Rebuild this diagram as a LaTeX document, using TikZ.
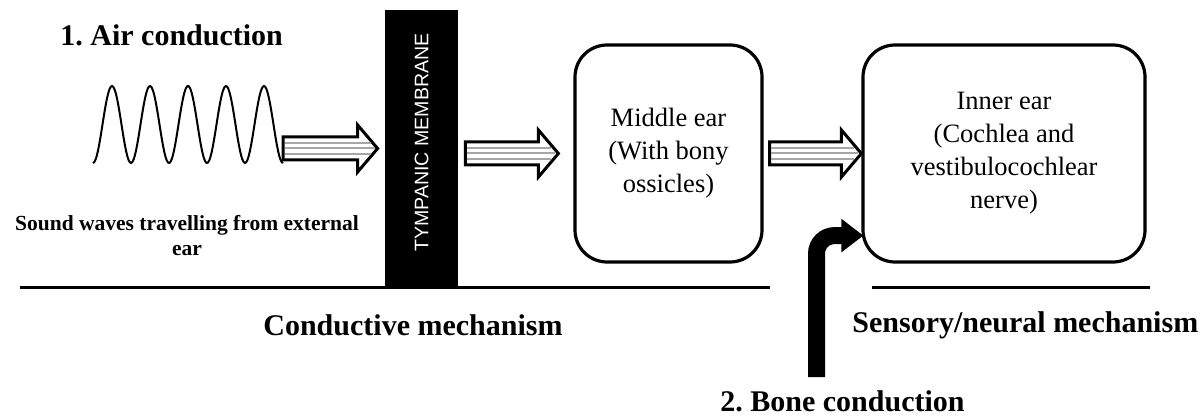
\documentclass[tikz,border=0pt]{standalone}
\usepackage{fontspec}
\setmainfont{Liberation Serif}
\setsansfont{Liberation Sans}
\usepackage{graphicx}
\usetikzlibrary{arrows.meta,calc}
\frenchspacing
\tikzset{
  headline/.style={font=\bfseries\fontsize{15}{18}\selectfont,inner sep=0pt},
  earbox/.style={draw,line width=1.6pt,rounded corners=16pt,align=center,inner sep=0pt,
    font=\fontsize{13.25}{16.5}\selectfont},
  membrane/.style={fill=black,text=white,inner sep=0pt,minimum width=36.5pt,minimum height=138.5pt,
    font=\sffamily\fontsize{9.8}{11}\selectfont},
  arrowbody/.style={draw=black,fill=white,line width=1.5pt,line join=miter},
  arrowstripe/.style={draw=gray!70,line width=1pt},
  groundline/.style={line width=1.5pt},
  soundwave/.style={line width=1pt},
  bonearrow/.style={line width=8.5pt,rounded corners=9pt,-{Triangle[length=11pt,width=16pt]}}
}
% hollow striped block arrow from #1 to the tip #2 (drawn at the height of #2)
\newcommand{\blockarrow}[2]{%
  \filldraw[arrowbody] let \p1=(#1), \p2=(#2) in
    (\x1,\y2+5.75pt) -- (\x2-10pt,\y2+5.75pt) -- (\x2-10pt,\y2+11.75pt) -- (\x2,\y2)
    -- (\x2-10pt,\y2-11.75pt) -- (\x2-10pt,\y2-5.75pt) -- (\x1,\y2-5.75pt) -- cycle;
  \foreach \off/\cut in {2.75pt/3.5pt,0pt/1.5pt,-2.75pt/3.5pt}
    \draw[arrowstripe] let \p1=(#1), \p2=(#2) in (\x1+0.8pt,\y2+\off) -- (\x2-\cut,\y2+\off);
}

\begin{document}
\begin{tikzpicture}[x=0.5pt,y=-0.5pt]
    \useasboundingbox (0,0) rectangle (1200,417);

    \node[headline,anchor=base west] (air) at (60,46) {1. Air conduction};
    \draw[soundwave] plot[domain=0:5,samples=150,smooth] ({93+38*\x},{124.5+38.5*cos(360*\x)});
    \coordinate (waveend) at (283,148.5);
    \node[font=\bfseries\fontsize{10.75}{12.5}\selectfont,align=center,inner sep=0pt] (sound) at (187,236)
      {Sound waves travelling from external\\ear};

    \draw[groundline] (20,287) -- (770,287);
    \draw[groundline] (872,287) -- (1150,287);

    \node[membrane] (tm) at (421.5,148.5) {\raisebox{3pt}[\height][0pt]{\rotatebox{90}{TYMPANIC MEMBRANE}}};
    \node[earbox,minimum width=93.5pt,minimum height=108.5pt] (middle) at (668.5,153.5)
      {Middle ear\\(With bony\\ossicles)};
    \node[earbox,minimum width=141pt,minimum height=108.5pt] (inner) at (1004,153.5)
      {Inner ear\\(Cochlea and\\vestibulocochlear\\nerve)};

    \blockarrow{waveend}{[xshift=-3.5pt]tm.west}
    \blockarrow{[xshift=3.5pt]tm.east}{[xshift=-7.5pt]middle.west}
    \blockarrow{[xshift=3pt]middle.east}{inner.west}

    \coordinate (bonefoot) at (816.5,377);
    \draw[bonearrow] (bonefoot) |- ([xshift=1pt,yshift=14pt]inner.south west);

    \node[headline,anchor=base west] (conductive) at (263,335) {Conductive mechanism};
    \node[headline,anchor=base west] (sensory) at (852,332) {Sensory/neural mechanism};
    \node[headline,anchor=base west] (bone) at (720,411) {2. Bone conduction};
  \end{tikzpicture}
\end{document}
